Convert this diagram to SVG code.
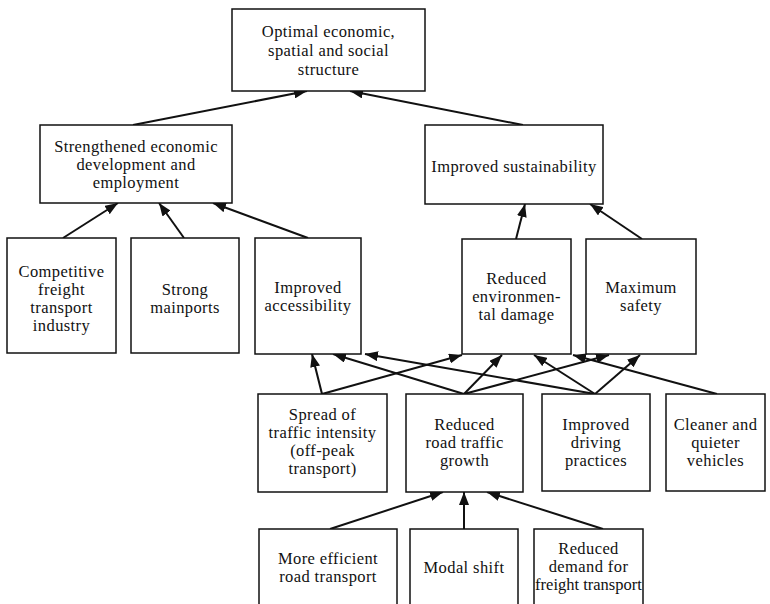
<svg xmlns="http://www.w3.org/2000/svg" width="770" height="604" viewBox="0 0 770 604">
  <style>
    .box { fill: #fff; stroke: #111; stroke-width: 1.5; }
    .lbl { font-family: 'Liberation Serif', 'DejaVu Serif', serif; font-size: 16.5px; letter-spacing: 0.4px; fill: #111; text-anchor: middle; }
    .tight { letter-spacing: 0; }
    .edge { stroke: #111; stroke-width: 2; fill: none; marker-end: url(#head); }
  </style>
  <defs>
    <marker id="head" markerUnits="userSpaceOnUse" markerWidth="13" markerHeight="10" refX="13" refY="5" orient="auto">
      <path d="M0,0 L13,5 L0,10 z" fill="#111"/>
    </marker>
  </defs>
  <rect width="770" height="604" fill="#fff"/>

  <!-- connectors -->
  <g id="connectors">
    <line class="edge" x1="133" y1="125" x2="307" y2="91"/>
    <line class="edge" x1="523" y1="125" x2="350" y2="91"/>
    <line class="edge" x1="63" y1="238" x2="118" y2="203"/>
    <line class="edge" x1="184" y1="238" x2="159" y2="203"/>
    <line class="edge" x1="308" y1="238" x2="213" y2="203"/>
    <line class="edge" x1="516" y1="239" x2="525" y2="204"/>
    <line class="edge" x1="642" y1="239" x2="590" y2="204"/>
    <line class="edge" x1="322" y1="394" x2="312" y2="354"/>
    <line class="edge" x1="322" y1="394" x2="462" y2="355"/>
    <line class="edge" x1="464" y1="394" x2="333" y2="354"/>
    <line class="edge" x1="464" y1="394" x2="502" y2="355"/>
    <line class="edge" x1="464" y1="394" x2="609" y2="355"/>
    <line class="edge" x1="595" y1="394" x2="365" y2="354"/>
    <line class="edge" x1="595" y1="394" x2="534" y2="355"/>
    <line class="edge" x1="595" y1="394" x2="640" y2="355"/>
    <line class="edge" x1="717" y1="394" x2="573" y2="355"/>
    <line class="edge" x1="330" y1="529" x2="443" y2="492"/>
    <line class="edge" x1="464" y1="529" x2="464" y2="492"/>
    <line class="edge" x1="603" y1="529" x2="487" y2="492"/>
  </g>

  <!-- nodes -->
  <g id="optimal-structure">
    <rect class="box" x="232" y="9" width="193" height="82"/>
    <text class="lbl" x="328.5" y="37">Optimal economic,</text>
    <text class="lbl" x="328.5" y="56">spatial and social</text>
    <text class="lbl" x="328.5" y="75">structure</text>
  </g>
  <g id="economic-development">
    <rect class="box" x="40" y="125" width="192" height="78"/>
    <text class="lbl" x="136" y="152">Strengthened economic</text>
    <text class="lbl" x="136" y="170">development and</text>
    <text class="lbl" x="136" y="188">employment</text>
  </g>
  <g id="sustainability">
    <rect class="box" x="425" y="125" width="178" height="79"/>
    <text class="lbl" x="514" y="172">Improved sustainability</text>
  </g>
  <g id="freight-industry">
    <rect class="box" x="7" y="238" width="109" height="115"/>
    <text class="lbl" x="61.5" y="277">Competitive</text>
    <text class="lbl" x="61.5" y="295">freight</text>
    <text class="lbl" x="61.5" y="313">transport</text>
    <text class="lbl" x="61.5" y="331">industry</text>
  </g>
  <g id="mainports">
    <rect class="box" x="131" y="238" width="108" height="115"/>
    <text class="lbl" x="185" y="295">Strong</text>
    <text class="lbl" x="185" y="313">mainports</text>
  </g>
  <g id="accessibility">
    <rect class="box" x="255" y="238" width="106" height="116"/>
    <text class="lbl" x="308" y="293">Improved</text>
    <text class="lbl" x="308" y="311">accessibility</text>
  </g>
  <g id="environmental-damage">
    <rect class="box" x="462" y="239" width="109" height="115"/>
    <text class="lbl" x="516.5" y="284">Reduced</text>
    <text class="lbl" x="516.5" y="302">environmen-</text>
    <text class="lbl" x="516.5" y="320">tal damage</text>
  </g>
  <g id="safety">
    <rect class="box" x="586" y="239" width="110" height="115"/>
    <text class="lbl" x="641" y="293">Maximum</text>
    <text class="lbl" x="641" y="311">safety</text>
  </g>
  <g id="traffic-spread">
    <rect class="box" x="258" y="394" width="129" height="98"/>
    <text class="lbl" x="322.5" y="420">Spread of</text>
    <text class="lbl" x="322.5" y="438">traffic intensity</text>
    <text class="lbl" x="322.5" y="456">(off-peak</text>
    <text class="lbl" x="322.5" y="474">transport)</text>
  </g>
  <g id="traffic-growth">
    <rect class="box" x="406" y="394" width="117" height="98"/>
    <text class="lbl" x="464.5" y="430">Reduced</text>
    <text class="lbl" x="464.5" y="448">road traffic</text>
    <text class="lbl" x="464.5" y="466">growth</text>
  </g>
  <g id="driving-practices">
    <rect class="box" x="542" y="394" width="108" height="97"/>
    <text class="lbl" x="596" y="430">Improved</text>
    <text class="lbl" x="596" y="448">driving</text>
    <text class="lbl" x="596" y="466">practices</text>
  </g>
  <g id="clean-vehicles">
    <rect class="box" x="666" y="394" width="99" height="97"/>
    <text class="lbl" x="715.5" y="430">Cleaner and</text>
    <text class="lbl" x="715.5" y="448">quieter</text>
    <text class="lbl" x="715.5" y="466">vehicles</text>
  </g>
  <g id="efficient-road-transport">
    <rect class="box" x="259" y="529" width="138" height="80"/>
    <text class="lbl" x="328" y="564">More efficient</text>
    <text class="lbl" x="328" y="582">road transport</text>
  </g>
  <g id="modal-shift">
    <rect class="box" x="410" y="529" width="108" height="80"/>
    <text class="lbl" x="464" y="573">Modal shift</text>
  </g>
  <g id="freight-demand">
    <rect class="box" x="534" y="529" width="109" height="80"/>
    <text class="lbl" x="588.5" y="554">Reduced</text>
    <text class="lbl" x="588.5" y="572">demand for</text>
    <text class="lbl tight" x="588.5" y="590">freight transport</text>
  </g>
</svg>
